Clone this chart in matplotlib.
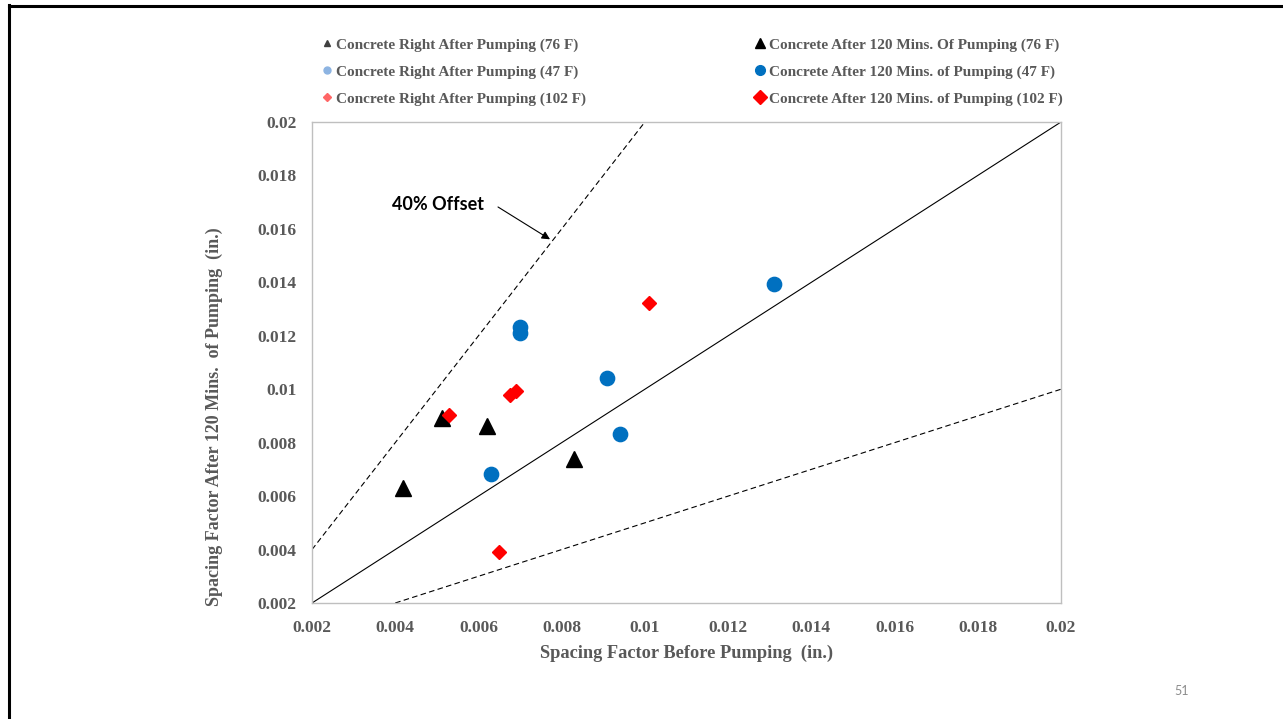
import matplotlib
matplotlib.use("Agg")
import matplotlib.pyplot as plt
from matplotlib.lines import Line2D

# ---- data ----
right_76_x, right_76_y = [], []
right_47_x, right_47_y = [], []
right_102_x, right_102_y = [], []

after_76_x = [0.00419, 0.00512, 0.00621, 0.00830]
after_76_y = [0.00630, 0.00891, 0.00862, 0.00739]

after_47_x = [0.00630, 0.00700, 0.00700, 0.00909, 0.00940, 0.01310]
after_47_y = [0.00683, 0.01233, 0.01210, 0.01042, 0.00832, 0.01394]

after_102_x = [0.00529, 0.00676, 0.00690, 0.00649, 0.01010]
after_102_y = [0.00904, 0.00978, 0.00993, 0.00392, 0.01324]

line_x = [0.002, 0.02]
equality_y = [0.002, 0.02]
upper_x = [0.002, 0.01]
upper_y = [0.004, 0.02]
lower_x = [0.004, 0.02]
lower_y = [0.002, 0.01]

ticks = [0.002, 0.004, 0.006, 0.008, 0.01, 0.012, 0.014, 0.016, 0.018, 0.02]
tick_labels = ["0.002", "0.004", "0.006", "0.008", "0.01", "0.012", "0.014", "0.016", "0.018", "0.02"]

labels = [
    "Concrete Right After Pumping (76 F)",
    "Concrete Right After Pumping (47 F)",
    "Concrete Right After Pumping (102 F)",
    "Concrete After 120 Mins. Of Pumping (76 F)",
    "Concrete After 120 Mins. of Pumping (47 F)",
    "Concrete After 120 Mins. of Pumping (102 F)",
]

W, H = 1283, 719
GRAY = "#595959"
BLUE = "#0070C0"
RED = "#FF0000"
SERIF = ["Liberation Serif", "DejaVu Serif"]

fig = plt.figure(figsize=(W / 100, H / 100), dpi=100)
fig.patch.set_facecolor("white")

ax = fig.add_axes([312 / W, 1 - 603 / H, (1061 - 312) / W, (603 - 122) / H])

ax.plot(line_x, equality_y, color="black", lw=0.8)
ax.plot(upper_x, upper_y, color="black", lw=0.8, ls=(0, (5, 3)))
ax.plot(lower_x, lower_y, color="black", lw=0.8, ls=(0, (5, 3)))

h1, = ax.plot(right_76_x, right_76_y, ls="none", marker="^", ms=4, color="#404040")
h2, = ax.plot(right_47_x, right_47_y, ls="none", marker="o", ms=5, color="#8DB4E2")
h3, = ax.plot(right_102_x, right_102_y, ls="none", marker="D", ms=4, color="#FF6666")
h4, = ax.plot(after_76_x, after_76_y, ls="none", marker="^", ms=11.5, color="black")
h5, = ax.plot(after_47_x, after_47_y, ls="none", marker="o", ms=10.3, color=BLUE)
h6, = ax.plot(after_102_x, after_102_y, ls="none", marker="D", ms=7.5, color=RED)

ax.set_xlim(0.002, 0.02)
ax.set_ylim(0.002, 0.02)
ax.set_xticks(ticks)
ax.set_xticklabels(tick_labels)
ax.set_yticks(ticks)
ax.set_yticklabels(tick_labels)
ax.tick_params(length=0, labelsize=12.5, labelcolor=GRAY)
ax.tick_params(axis="x", pad=12)
ax.tick_params(axis="y", pad=11)
for lab in ax.get_xticklabels() + ax.get_yticklabels():
    lab.set_family(SERIF)
    lab.set_fontweight("bold")
for sp in ax.spines.values():
    sp.set_color("#BFBFBF")
    sp.set_linewidth(1.0)

ax.text(0.003915, 0.01693, "40% Offset", fontsize=13, fontweight="bold",
        family=["Lato", "DejaVu Sans"], va="center", ha="left", color="black")
ax.annotate("", xy=(0.00772, 0.01561), xytext=(0.00647, 0.01682),
            arrowprops=dict(arrowstyle="-|>", color="black", lw=0.8,
                            mutation_scale=12, shrinkA=0, shrinkB=0))

fig.text(686 / W, 1 - 653 / H, "Spacing Factor Before Pumping  (in.)", ha="center", va="center",
         fontsize=13.2, fontweight="bold", color=GRAY, family=SERIF)
fig.text(214 / W, 1 - 417 / H, "Spacing Factor After 120 Mins.  of Pumping  (in.)", ha="center",
         va="center", rotation=90, fontsize=13, fontweight="bold", color=GRAY, family=SERIF)

leg_kw = dict(loc="upper left", frameon=False, borderpad=0, borderaxespad=0,
              handlelength=0.6, handletextpad=0.3, labelspacing=0.86,
              prop=dict(family=SERIF, weight="bold", size=11), labelcolor=GRAY)
leg1 = fig.legend([h1, h2, h3], labels[:3], bbox_to_anchor=(322 / W, 1 - 38 / H), **leg_kw)
leg2 = fig.legend([h4, h5, h6], labels[3:], bbox_to_anchor=(755 / W, 1 - 38 / H), **leg_kw)
for hh in leg2.legend_handles:
    hh.set_markersize(7)

fig.text(1182 / W, 1 - 691 / H, "51", ha="center", va="center", fontsize=9,
         color="#8C8C8C", family=["Lato", "DejaVu Sans"])

# slide border (left and top)
fig.add_artist(Line2D([9 / W, 9 / W], [0, 1 - 5 / H], color="black", lw=2.2,
                      transform=fig.transFigure, solid_capstyle="projecting"))
fig.add_artist(Line2D([9 / W, 1], [1 - 5.5 / H, 1 - 5.5 / H], color="black", lw=2.2,
                      transform=fig.transFigure, solid_capstyle="projecting"))

fig.savefig("out.png", dpi=100, facecolor="white")
